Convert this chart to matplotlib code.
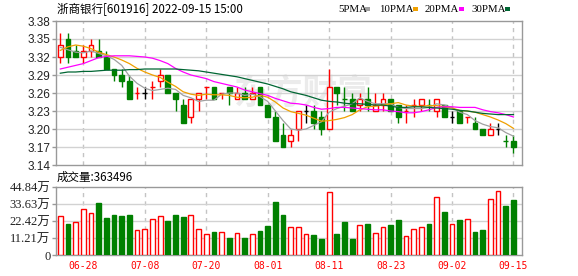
import matplotlib
matplotlib.use('Agg')
import matplotlib.pyplot as plt
from matplotlib.patches import Rectangle
import numpy as np

# ---------------- data ----------------
dates = ["06-23", "06-24", "06-27", "06-28", "06-29", "06-30", "07-01", "07-04", "07-05", "07-06",
         "07-07", "07-08", "07-11", "07-12", "07-13", "07-14", "07-15", "07-18", "07-19", "07-20",
         "07-21", "07-22", "07-25", "07-26", "07-27", "07-28", "07-29", "08-01", "08-02", "08-03",
         "08-04", "08-05", "08-08", "08-09", "08-10", "08-11", "08-12", "08-15", "08-16", "08-17",
         "08-18", "08-19", "08-22", "08-23", "08-24", "08-25", "08-26", "08-29", "08-30", "08-31",
         "09-01", "09-02", "09-05", "09-06", "09-07", "09-08", "09-09", "09-13", "09-14", "09-15"]
tick_labels = ["06-28", "07-08", "07-20", "08-01", "08-11", "08-23", "09-02", "09-15"]

opens = [3.32, 3.35, 3.33, 3.32, 3.33, 3.33, 3.32, 3.30, 3.29, 3.28,
         3.26, 3.26, 3.27, 3.28, 3.29, 3.26, 3.24, 3.22, 3.25, 3.27,
         3.27, 3.26, 3.27, 3.25, 3.26, 3.25, 3.27, 3.24, 3.22, 3.19,
         3.18, 3.20, 3.23, 3.23, 3.22, 3.20, 3.27, 3.25, 3.25, 3.24,
         3.25, 3.23, 3.24, 3.25, 3.24, 3.23, 3.24, 3.24, 3.24, 3.23,
         3.24, 3.22, 3.23, 3.22, 3.21, 3.20, 3.19, 3.20, 3.18, 3.18]
highs = [3.36, 3.36, 3.34, 3.34, 3.35, 3.35, 3.33, 3.30, 3.30, 3.29,
         3.27, 3.27, 3.28, 3.30, 3.29, 3.26, 3.25, 3.25, 3.26, 3.27,
         3.27, 3.26, 3.27, 3.27, 3.27, 3.27, 3.27, 3.24, 3.23, 3.21,
         3.20, 3.23, 3.24, 3.24, 3.23, 3.30, 3.27, 3.27, 3.26, 3.26,
         3.27, 3.26, 3.26, 3.25, 3.24, 3.24, 3.25, 3.25, 3.25, 3.25,
         3.24, 3.23, 3.23, 3.22, 3.22, 3.20, 3.21, 3.21, 3.19, 3.19]
lows = [3.31, 3.31, 3.32, 3.31, 3.32, 3.32, 3.30, 3.28, 3.27, 3.25,
        3.25, 3.25, 3.25, 3.27, 3.26, 3.23, 3.21, 3.21, 3.23, 3.25,
        3.25, 3.25, 3.24, 3.25, 3.25, 3.25, 3.24, 3.22, 3.18, 3.17,
        3.17, 3.18, 3.21, 3.20, 3.19, 3.20, 3.24, 3.23, 3.23, 3.23,
        3.23, 3.23, 3.23, 3.23, 3.21, 3.21, 3.22, 3.23, 3.23, 3.22,
        3.22, 3.21, 3.21, 3.21, 3.20, 3.19, 3.19, 3.19, 3.17, 3.16]
closes = [3.34, 3.32, 3.32, 3.33, 3.34, 3.32, 3.30, 3.29, 3.28, 3.25,
          3.26, 3.26, 3.27, 3.29, 3.26, 3.25, 3.21, 3.25, 3.26, 3.27,
          3.25, 3.26, 3.26, 3.26, 3.25, 3.26, 3.24, 3.22, 3.18, 3.17,
          3.19, 3.23, 3.23, 3.21, 3.20, 3.27, 3.26, 3.25, 3.23, 3.25,
          3.24, 3.24, 3.25, 3.23, 3.22, 3.23, 3.24, 3.25, 3.24, 3.25,
          3.22, 3.22, 3.21, 3.22, 3.20, 3.19, 3.20, 3.20, 3.18, 3.17]

ma5 = [3.336, 3.332, 3.328, 3.327, 3.330, 3.326, 3.322, 3.316, 3.306, 3.288,
       3.276, 3.268, 3.264, 3.266, 3.268, 3.266, 3.256, 3.252, 3.246, 3.248,
       3.248, 3.258, 3.260, 3.260, 3.256, 3.258, 3.254, 3.246, 3.230, 3.214,
       3.200, 3.198, 3.200, 3.206, 3.212, 3.228, 3.234, 3.238, 3.242, 3.252,
       3.246, 3.242, 3.242, 3.242, 3.236, 3.234, 3.234, 3.234, 3.236, 3.242,
       3.240, 3.236, 3.228, 3.224, 3.214, 3.208, 3.204, 3.202, 3.194, 3.188]
ma10 = [3.331, 3.337, 3.340, 3.338, 3.334, 3.328, 3.324, 3.320, 3.315, 3.309,
        3.301, 3.295, 3.290, 3.286, 3.278, 3.271, 3.262, 3.258, 3.256, 3.258,
        3.257, 3.257, 3.256, 3.253, 3.252, 3.253, 3.256, 3.253, 3.245, 3.235,
        3.229, 3.226, 3.223, 3.218, 3.213, 3.214, 3.216, 3.219, 3.224, 3.232,
        3.237, 3.238, 3.240, 3.242, 3.244, 3.240, 3.238, 3.238, 3.239, 3.239,
        3.237, 3.235, 3.231, 3.230, 3.228, 3.224, 3.220, 3.215, 3.209, 3.201]
ma20 = [3.300, 3.303, 3.306, 3.309, 3.314, 3.319, 3.321, 3.322, 3.322, 3.322,
        3.321, 3.320, 3.318, 3.314, 3.309, 3.301, 3.295, 3.290, 3.287, 3.284,
        3.279, 3.276, 3.273, 3.270, 3.265, 3.262, 3.259, 3.256, 3.251, 3.247,
        3.243, 3.242, 3.240, 3.236, 3.233, 3.234, 3.236, 3.236, 3.235, 3.234,
        3.233, 3.232, 3.232, 3.230, 3.229, 3.227, 3.227, 3.229, 3.232, 3.236,
        3.237, 3.237, 3.236, 3.236, 3.236, 3.232, 3.229, 3.227, 3.224, 3.220]
ma30 = [3.293, 3.295, 3.295, 3.296, 3.296, 3.297, 3.298, 3.298, 3.298, 3.299,
        3.299, 3.300, 3.300, 3.300, 3.300, 3.300, 3.299, 3.298, 3.297, 3.295,
        3.293, 3.291, 3.289, 3.287, 3.284, 3.281, 3.278, 3.275, 3.271, 3.267,
        3.262, 3.259, 3.256, 3.252, 3.248, 3.246, 3.245, 3.243, 3.242, 3.242,
        3.241, 3.240, 3.240, 3.238, 3.236, 3.236, 3.237, 3.237, 3.236, 3.235,
        3.234, 3.233, 3.231, 3.230, 3.228, 3.226, 3.225, 3.224, 3.224, 3.224]

# volume in 万 (10k)
volumes = [25.6, 20.5, 21.6, 30.3, 27.8, 34.2, 24.5, 26.5, 25.8, 26.5,
           16.3, 17.2, 23.9, 25.6, 22.5, 26.5, 25.2, 26.3, 17.2, 13.9,
           15.2, 15.2, 11.3, 14.6, 11.3, 13.9, 15.9, 19.2, 35.1, 26.5,
           18.6, 18.6, 13.9, 13.3, 10.6, 41.5, 13.9, 21.9, 10.6, 19.9,
           20.5, 14.6, 18.6, 19.9, 23.2, 12.6, 17.2, 18.6, 20.5, 38.2,
           28.5, 20.5, 23.2, 23.9, 15.2, 16.6, 37.1, 42.2, 32.5, 36.3496]
vol_dir = list("RGRRRGGGGGRRRRGGGRRRGRGRGRGGGGRRRGGRGGGRGRRGGRRRGRGRGRGGRRGG")

price_ticks = [3.14, 3.17, 3.20, 3.23, 3.26, 3.29, 3.32, 3.35, 3.38]
vol_ticks = [0, 11.21, 22.42, 33.63, 44.84]

title = "浙商银行[601916] 2022-09-15 15:00"
ma_names = ["5PMA", "10PMA", "20PMA", "30PMA"]

# ---------------- style ----------------
RED = '#ff0000'
GREEN = '#008000'
BLACK = '#000000'
MA_COLORS = ['#a0a0a0', '#f0a000', '#ff00ff', '#006633']
SPINE = '#999999'
GRID = '#d2d2d2'
VGRID = '#c4c4c4'
LABEL = '#222222'
CJK = ['Noto Sans CJK SC', 'DejaVu Sans']

W, H = 578, 276
fig = plt.figure(figsize=(W / 100, H / 100), dpi=100)
fig.patch.set_facecolor('white')


def fx(px):
    return px / W


def fy(py):
    return 1 - py / H


L, R = 56, 522
ax = fig.add_axes([fx(L), fy(165), fx(R) - fx(L), fy(21) - fy(165)])
axv = fig.add_axes([fx(L), fy(255), fx(R) - fx(L), fy(187) - fy(255)])

x = np.arange(len(dates))
tick_pos = [dates.index(t) for t in tick_labels]
BW = 0.62

for a in (ax, axv):
    a.set_xlim(-0.56, 60.11)
    for s in a.spines.values():
        s.set_color(SPINE)
        s.set_linewidth(1)
    for p in tick_pos:
        a.axvline(p, color=VGRID, lw=1, ls=(0, (3, 3)), zorder=0.8)

# ---- price panel ----
ax.set_ylim(3.14, 3.38)
ax.set_yticks(price_ticks)
ax.set_yticklabels([f"{v:.2f}" for v in price_ticks], fontfamily='Liberation Sans',
                   fontsize=8.5, color=LABEL)
for v in price_ticks[1:-1]:
    ax.axhline(v, color=GRID, lw=1, zorder=0.9)
ax.tick_params(axis='y', length=3, width=1, color=SPINE, pad=1)
ax.set_xticks([])

ax.text(0.53, 0.5, "东方财富", transform=ax.transAxes, ha='center', va='center',
        fontsize=25, fontfamily=CJK, color='#ebebeb', zorder=0.5, fontweight='bold')

for i in x:
    o, h, l, c = opens[i], highs[i], lows[i], closes[i]
    if c > o:
        col = RED
    elif c < o:
        col = GREEN
    else:
        prev = closes[i - 1] if i > 0 else c
        col = RED if c > prev else (GREEN if c < prev else BLACK)
    ax.vlines(i, l, h, color=col, lw=1, zorder=3)
    if c != o:
        face = 'white' if c > o else col
        ax.bar(i, abs(c - o), bottom=min(o, c), width=BW, facecolor=face,
               edgecolor=col, linewidth=1, zorder=4)
    else:
        ax.hlines(c, i - BW / 2, i + BW / 2, color=col, lw=1, zorder=4)

for ma, colr in zip([ma5, ma10, ma20, ma30], MA_COLORS):
    ax.plot(x, ma, color=colr, lw=0.9, zorder=5)

# ---- volume panel ----
axv.set_ylim(0, vol_ticks[-1])
axv.set_yticks(vol_ticks)
axv.set_yticklabels(["0"] + [f"{v:.2f}万" for v in vol_ticks[1:]],
                    fontfamily=['Liberation Serif', 'Noto Sans CJK SC'], fontsize=9, color=LABEL)
for v in vol_ticks[1:-1]:
    axv.axhline(v, color=GRID, lw=1, zorder=0.9)
axv.tick_params(axis='y', length=3, width=1, color=SPINE, pad=1)
axv.set_xticks(tick_pos)
axv.set_xticklabels(tick_labels, fontfamily='DejaVu Sans Mono', fontsize=7, color=RED)
axv.tick_params(axis='x', length=0, pad=4.5)

for i in x:
    if vol_dir[i] == 'R':
        axv.bar(i, volumes[i], width=BW, facecolor='white', edgecolor=RED, linewidth=1, zorder=3)
    else:
        axv.bar(i, volumes[i], width=BW, facecolor=GREEN, edgecolor=GREEN, linewidth=1, zorder=3)

# ---- texts ----
fig.text(fx(57), fy(10), title, ha='left', va='center', fontsize=8.3, fontfamily=CJK, color='black')
fig.text(fx(57), fy(177), f"成交量:{int(round(volumes[-1] * 10000))}", ha='left', va='center',
         fontsize=8.3, fontfamily=CJK, color='black')

leg_text_x = [338, 379, 425, 471]
leg_sq_x = [365, 413, 459, 505]
for name, tx, sx, colr in zip(ma_names, leg_text_x, leg_sq_x, MA_COLORS):
    fig.text(fx(tx), fy(9.5), name, ha='left', va='center', fontsize=7.8,
             fontfamily='Liberation Serif', color='black')
    fig.patches.append(Rectangle((fx(sx), fy(11)), fx(5), 4 / H, transform=fig.transFigure,
                                 facecolor=colr, edgecolor='none'))

fig.savefig('out.png', dpi=100, facecolor='white')
